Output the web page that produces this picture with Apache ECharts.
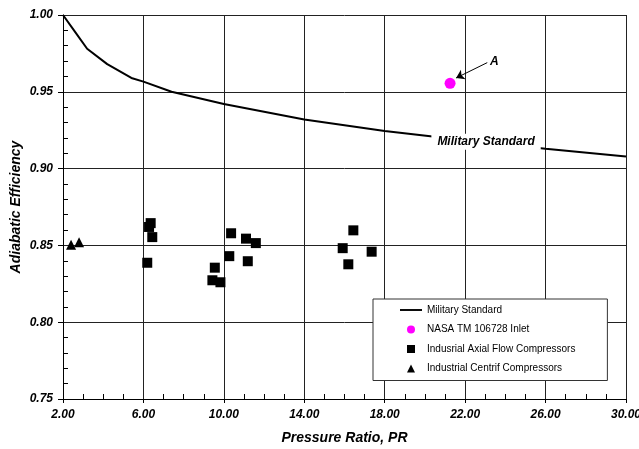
<!DOCTYPE html>
<html>
<head>
<meta charset="utf-8">
<script src="https://cdn.jsdelivr.net/npm/echarts@6/dist/echarts.min.js"></script>
<style>
  html, body { margin: 0; padding: 0; background: #fff; }
  #chart { width: 639px; height: 449px; }
</style>
</head>
<body>
<div id="chart"></div>
<script>
// Military Standard curve (pressure ratio, efficiency)
const milStdPR = [2, 2.6, 3.2, 4.2, 5.4, 6, 7.4, 10, 14, 18, 22, 26, 30]
const milStdEff = [1.0, 0.989, 0.978, 0.968, 0.959, 0.9566, 0.950, 0.942, 0.932, 0.9245, 0.9185, 0.913, 0.9078]

// NASA TM 106728 inlet point
const nasaPR = [21.25]
const nasaEff = [0.9555]

// Industrial axial flow compressors
const axialPR = [6.28, 6.36, 6.44, 6.19, 9.55, 9.43, 9.83, 10.27, 10.36, 11.10, 11.59, 11.19, 16.44, 15.91, 17.35, 16.19]
const axialEff = [0.862, 0.8645, 0.8554, 0.8387, 0.8355, 0.8273, 0.826, 0.843, 0.8579, 0.8544, 0.8515, 0.8397, 0.8598, 0.8482, 0.8459, 0.8377]

// Industrial centrifugal compressors
const centrifPR = [2.4, 2.8]
const centrifEff = [0.8505, 0.852]

const seriesNames = ['Military Standard', 'NASA TM 106728 Inlet', 'Indusrial Axial Flow Compressors', 'Industrial Centrif Compressors']

const FONT = "'Liberation Sans', Arial, sans-serif"

const zip = (xs, ys) => xs.map((x, i) => [x, ys[i]])

const chart = echarts.init(document.getElementById('chart'))

const option = {
  animation: false,
  backgroundColor: '#fff',
  grid: { left: 63, right: 13, top: 15, bottom: 50, containLabel: false, outerBoundsMode: 'none' },
  legend: {
    data: [
      { name: seriesNames[0], icon: 'path://M0,0H23V2H0Z' },
      { name: seriesNames[1], icon: 'circle' },
      { name: seriesNames[2], icon: 'path://M0,0H10V10H0Z' },
      { name: seriesNames[3], icon: 'path://M5,0L10,10H0Z' }
    ],
    orient: 'vertical',
    left: 373,
    top: 299,
    padding: [6, 32, 7, 27],
    itemGap: 9.5,
    itemWidth: 22,
    itemHeight: 8,
    symbolKeepAspect: true,
    backgroundColor: '#fff',
    borderColor: '#333',
    borderWidth: 1,
    borderRadius: 0,
    textStyle: { fontFamily: FONT, fontSize: 10, color: '#000' }
  },
  xAxis: {
    type: 'value',
    min: 2,
    max: 30,
    interval: 4,
    name: 'Pressure Ratio, PR',
    nameLocation: 'middle',
    nameGap: 32,
    nameMoveOverlap: false,
    nameTextStyle: { fontFamily: FONT, fontSize: 14, fontWeight: 'bold', fontStyle: 'italic', color: '#000' },
    axisLine: { onZero: false, lineStyle: { color: '#000', width: 1 } },
    axisTick: { show: true, length: 4, lineStyle: { color: '#000' } },
    minorTick: { show: true, splitNumber: 4, length: -5, lineStyle: { color: '#000' } },
    axisLabel: {
      margin: 10,
      formatter: v => v.toFixed(2),
      fontFamily: FONT, fontSize: 12, fontWeight: 'bold', fontStyle: 'italic', color: '#000'
    },
    splitLine: { show: true, lineStyle: { color: '#222', width: 1 } }
  },
  yAxis: {
    type: 'value',
    min: 0.75,
    max: 1.0,
    interval: 0.05,
    name: 'Adiabatic Efficiency',
    nameLocation: 'middle',
    nameGap: 40,
    nameMoveOverlap: false,
    nameTextStyle: { fontFamily: FONT, fontSize: 14, fontWeight: 'bold', fontStyle: 'italic', color: '#000' },
    axisLine: { show: true, lineStyle: { color: '#000', width: 1 } },
    axisTick: { show: true, length: 5, lineStyle: { color: '#000' } },
    minorTick: { show: true, splitNumber: 5, length: -5, lineStyle: { color: '#000' } },
    axisLabel: {
      margin: 10,
      formatter: v => v.toFixed(2),
      fontFamily: FONT, fontSize: 12, fontWeight: 'bold', fontStyle: 'italic', color: '#000'
    },
    splitLine: { show: true, lineStyle: { color: '#222', width: 1 } }
  },
  series: [
    {
      name: seriesNames[0],
      type: 'line',
      data: zip(milStdPR, milStdEff),
      symbol: 'none',
      lineStyle: { color: '#000', width: 2 },
      itemStyle: { color: '#000' },
      z: 3,
      markPoint: {
        symbol: 'rect',
        symbolSize: 0,
        silent: true,
        data: [{ coord: [23.04, 0.9175] }],
        label: {
          show: true,
          formatter: 'Military Standard',
          position: 'inside',
          backgroundColor: '#fff',
          padding: [2, 6],
          fontFamily: FONT, fontSize: 12, fontWeight: 'bold', fontStyle: 'italic', color: '#000'
        }
      }
    },
    {
      name: seriesNames[1],
      type: 'scatter',
      data: zip(nasaPR, nasaEff),
      symbol: 'circle',
      symbolSize: 11,
      itemStyle: { color: '#ff00ff', opacity: 1 },
      z: 4,
      markLine: {
        silent: true,
        symbol: ['none', 'arrow'],
        symbolSize: 8,
        lineStyle: { color: '#000', width: 1, type: 'solid' },
        label: { show: false },
        data: [[{ coord: [23.1, 0.969] }, { coord: [21.55, 0.959] }]]
      },
      markPoint: {
        symbol: 'rect',
        symbolSize: 0,
        silent: true,
        data: [{ coord: [23.45, 0.9698] }],
        label: {
          show: true,
          formatter: 'A',
          position: 'inside',
          fontFamily: FONT, fontSize: 12, fontWeight: 'bold', fontStyle: 'italic', color: '#000'
        }
      }
    },
    {
      name: seriesNames[2],
      type: 'scatter',
      data: zip(axialPR, axialEff),
      symbol: 'rect',
      symbolSize: 10,
      itemStyle: { color: '#000', opacity: 1 },
      z: 4
    },
    {
      name: seriesNames[3],
      type: 'scatter',
      data: zip(centrifPR, centrifEff),
      symbol: 'triangle',
      symbolSize: 10,
      itemStyle: { color: '#000', opacity: 1 },
      z: 4
    }
  ]
}

chart.setOption(option)
</script>
</body>
</html>
